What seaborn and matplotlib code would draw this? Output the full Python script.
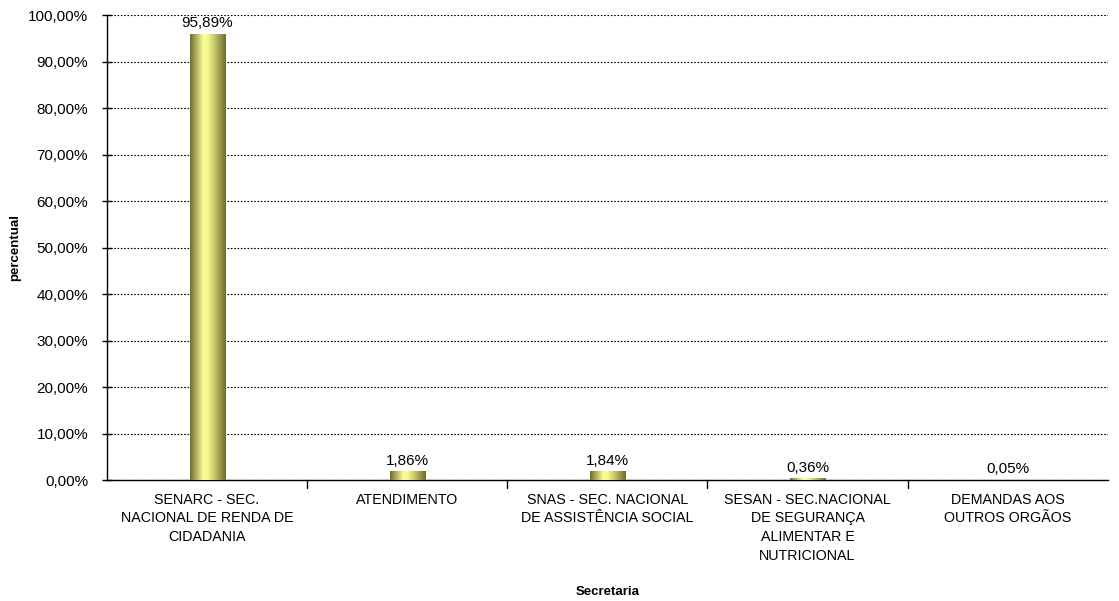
import matplotlib.pyplot as plt
import matplotlib.colors as mcolors
import seaborn as sns
import numpy as np
import pandas as pd

secretarias = [
    "SENARC - SEC.\nNACIONAL DE RENDA DE\nCIDADANIA",
    "ATENDIMENTO",
    "SNAS - SEC. NACIONAL\nDE ASSISTÊNCIA SOCIAL",
    "SESAN - SEC.NACIONAL\nDE SEGURANÇA\nALIMENTAR E\nNUTRICIONAL",
    "DEMANDAS AOS\nOUTROS ORGÃOS",
]
percentuais = [95.89, 1.86, 1.84, 0.36, 0.05]

df = pd.DataFrame({"secretaria": secretarias, "percentual": percentuais})

sns.set_style("white")
plt.rcParams["font.family"] = ["Liberation Sans", "DejaVu Sans"]
plt.rcParams["text.color"] = "black"
plt.rcParams["xtick.color"] = "black"
plt.rcParams["ytick.color"] = "black"
plt.rcParams["axes.labelcolor"] = "black"

fig = plt.figure(figsize=(11.19, 6.01), dpi=100)
ax = fig.add_axes([0.0956, 0.2013, 0.8944, 0.7737])

sns.barplot(data=df, x="secretaria", y="percentual", ax=ax, width=0.175,
            color="#e8e880", edgecolor="none", zorder=3)

# gradiente dos bares (escuro nas bordas, claro perto do centro)
cmap = mcolors.LinearSegmentedColormap.from_list(
    "bar", [(0, "#6e6e2e"), (0.38, "#ffff9a"), (0.5, "#f6f68e"), (1, "#6e6e2e")])
grad = np.linspace(0, 1, 256).reshape(1, -1)
for p in ax.patches:
    x0, y0 = p.get_x(), p.get_y()
    w, h = p.get_width(), p.get_height()
    im = ax.imshow(grad, cmap=cmap, aspect="auto", extent=[x0, x0 + w, y0, y0 + h],
                   zorder=4)
    im.set_clip_path(p)

for i, v in enumerate(percentuais):
    ax.text(i, v + 0.8, f"{v:.2f}%".replace(".", ","), ha="center", va="bottom",
            fontsize=11, zorder=5)

ax.set_xlim(-0.5, len(secretarias) - 0.5)
ax.set_ylim(0, 100)
ax.set_yticks(np.arange(0, 101, 10))
ax.set_yticklabels([f"{t:.2f}%".replace(".", ",") for t in np.arange(0, 101, 10)],
                   fontsize=11)
ax.set_xticks(range(len(secretarias)))
ax.set_xticklabels(secretarias, fontsize=10.3, va="top", linespacing=1.45)
ax.tick_params(axis="x", length=0, pad=9)
for xb in np.arange(0.5, len(secretarias) - 0.5, 1):
    ax.plot([xb, xb], [0, -1.7], color="black", lw=1, clip_on=False, zorder=5)
ax.tick_params(axis="y", direction="inout", length=7, width=1, color="black",
               left=True, pad=10)

ax.grid(axis="y", color="black", linestyle=(0, (1.5, 1.5)), linewidth=0.8, zorder=0)
ax.set_axisbelow(True)
for s in ["top", "right"]:
    ax.spines[s].set_visible(False)
for s in ["left", "bottom"]:
    ax.spines[s].set_color("black")
    ax.spines[s].set_linewidth(1)

ax.set_xlabel("Secretaria", fontsize=9.5, fontweight="bold")
ax.xaxis.set_label_coords(0.5, -0.228)
ax.set_ylabel("percentual", fontsize=9.5, fontweight="bold")
ax.yaxis.set_label_coords(-0.086, 0.5)

plt.savefig("out.png", dpi=100)
plt.close()
